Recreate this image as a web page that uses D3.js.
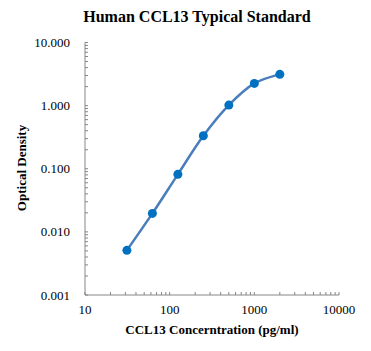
<!DOCTYPE html>
<html>
<head>
<meta charset="utf-8">
<script src="https://cdn.jsdelivr.net/npm/d3@7"></script>
<style>
  body { margin: 0; background: #fff; }
  text { font-family: "Liberation Serif", "Times New Roman", serif; fill: #000; }
</style>
</head>
<body>
<svg width="371" height="351"></svg>
<script>
// standard curve data
const concentrations = [31.25, 62.5, 125, 250, 500, 1000, 2000];
const densities = [0.0051, 0.0196, 0.0815, 0.333, 1.02, 2.25, 3.13];
const xTicks = [10, 100, 1000, 10000];
const yTicks = [0.001, 0.01, 0.1, 1, 10];

const svg = d3.select("svg");
const plotLeft = 85, plotRight = 339, plotTop = 42.5, plotBottom = 295;

const x = d3.scaleLog().domain([10, 10000]).range([plotLeft, plotRight]);
const y = d3.scaleLog().domain([0.001, 10]).range([plotBottom, plotTop]);

const axisColor = "#868686";

// minor ticks on both axes, pointing inward
const xMinor = x.ticks();
const yMinor = y.ticks();

svg.append("g")
  .selectAll("line")
  .data(xMinor)
  .enter()
  .append("line")
  .attr("x1", d => x(d)).attr("x2", d => x(d))
  .attr("y1", plotBottom).attr("y2", plotBottom - 3)
  .attr("stroke", axisColor);

svg.append("g")
  .selectAll("line")
  .data(yMinor)
  .enter()
  .append("line")
  .attr("x1", plotLeft).attr("x2", plotLeft + 3)
  .attr("y1", d => y(d)).attr("y2", d => y(d))
  .attr("stroke", axisColor);

// axis lines
svg.append("line")
  .attr("x1", plotLeft).attr("x2", plotRight)
  .attr("y1", plotBottom).attr("y2", plotBottom)
  .attr("stroke", axisColor);
svg.append("line")
  .attr("x1", plotLeft).attr("x2", plotLeft)
  .attr("y1", plotTop).attr("y2", plotBottom)
  .attr("stroke", axisColor);

// tick labels
svg.append("g")
  .selectAll("text")
  .data(xTicks)
  .enter()
  .append("text")
  .attr("x", d => x(d))
  .attr("y", plotBottom + 19)
  .attr("text-anchor", "middle")
  .style("font-size", "13px")
  .text(d => d);

svg.append("g")
  .selectAll("text")
  .data(yTicks)
  .enter()
  .append("text")
  .attr("x", 70)
  .attr("y", d => y(d) + 4.5)
  .attr("text-anchor", "end")
  .style("font-size", "13px")
  .text(d => d.toFixed(3));

// titles
svg.append("text")
  .attr("x", 197)
  .attr("y", 22)
  .attr("text-anchor", "middle")
  .style("font-size", "16px")
  .style("font-weight", "bold")
  .text("Human CCL13 Typical Standard");

svg.append("text")
  .attr("x", 212)
  .attr("y", 334)
  .attr("text-anchor", "middle")
  .style("font-size", "13px")
  .style("font-weight", "bold")
  .text("CCL13 Concerntration (pg/ml)");

svg.append("text")
  .attr("transform", "translate(26,168) rotate(-90)")
  .attr("text-anchor", "middle")
  .style("font-size", "13px")
  .style("font-weight", "bold")
  .text("Optical Density");

// smoothed line and markers
const points = concentrations.map((c, i) => [x(c), y(densities[i])]);
const line = d3.line().curve(d3.curveCatmullRom.alpha(0.5));

svg.append("path")
  .attr("d", line(points))
  .attr("fill", "none")
  .attr("stroke", "#4A7EBB")
  .attr("stroke-width", 2.5);

svg.append("g")
  .selectAll("circle")
  .data(points)
  .enter()
  .append("circle")
  .attr("cx", d => d[0])
  .attr("cy", d => d[1])
  .attr("r", 4.5)
  .attr("fill", "#0070C0");
</script>
</body>
</html>
